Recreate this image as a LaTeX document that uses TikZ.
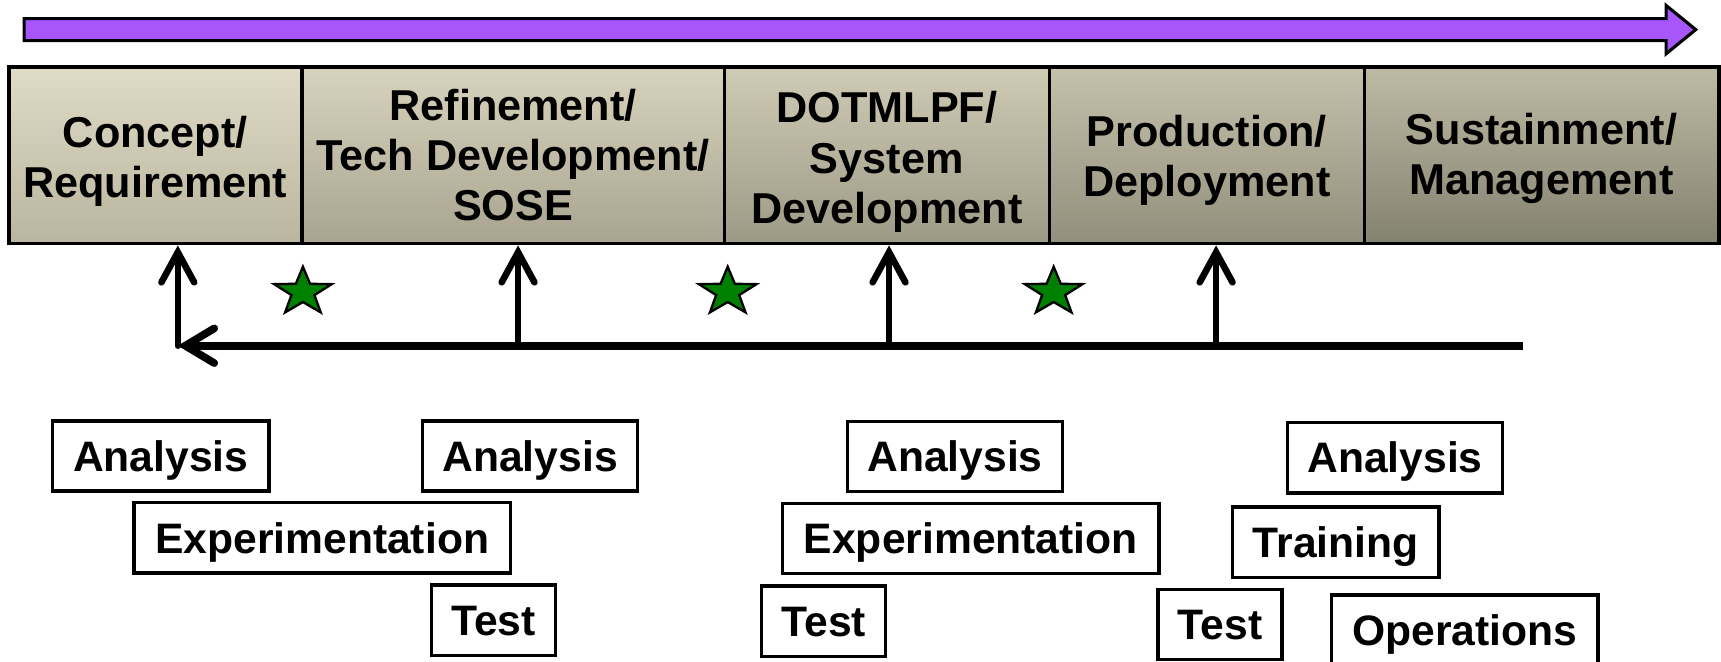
\documentclass[tikz,border=0pt]{standalone}
\usepackage{fontspec}
\setmainfont{Liberation Sans}
\usetikzlibrary{arrows.meta,shapes.geometric}
\definecolor{arrowpurple}{RGB}{166,86,250}
\definecolor{stargreen}{RGB}{0,128,0}
\definecolor{pAt}{RGB}{223,219,198}\definecolor{pAb}{RGB}{186,181,158}
\definecolor{pBt}{RGB}{215,211,189}\definecolor{pBb}{RGB}{168,164,143}
\definecolor{pCt}{RGB}{207,203,181}\definecolor{pCb}{RGB}{156,153,133}
\definecolor{pDt}{RGB}{197,193,171}\definecolor{pDb}{RGB}{146,143,124}
\definecolor{pEt}{RGB}{190,186,165}\definecolor{pEb}{RGB}{132,130,112}
\begin{document}
\begin{tikzpicture}[x=0.1mm,y=-0.1mm,
  phase/.style={draw=black, line width=0.9pt, minimum height=16.1mm, inner sep=0pt},
  phasetext/.style={inner sep=0pt, align=center, font=\fontsize{11.2}{13}\selectfont\bfseries},
  actbox/.style={draw=black, line width=0.9pt, minimum height=6.4mm, inner sep=0pt,
    text height=7.9pt, text depth=0pt,
    font=\fontsize{11.05}{13}\selectfont\bfseries},
  flow/.style={line width=1.7pt, line cap=round,
    -{Straight Barb[length=7.8pt,width=8.5pt,line cap=round,line width=1.7pt]}},
  backflow/.style={line width=2pt,
    -{Straight Barb[length=7.5pt,width=9pt,line cap=round,line width=2pt]}},
  milestone/.style={star, star points=5, star point ratio=2.5, draw=black, fill=stargreen,
    line width=0.6pt, minimum size=4.6mm, inner sep=0pt, xscale=1.2},
  timeline/.style={draw=black, line width=0.8pt, fill=arrowpurple}
]
\useasboundingbox (0,0) rectangle (1568,603);

% top timeline arrow
\draw[timeline] (22,17) -- (1518,17) -- (1518,5) -- (1545,27) -- (1518,49) -- (1518,37) -- (22,37) -- cycle;

% phases
\node[phase, minimum width=26.7mm, top color=pAt, bottom color=pAb,
  label={[phasetext, yshift=-0.55mm]center:{Concept/\\Requirement}}] (concept) at (141.5,141.5) {};
\node[phase, minimum width=38.5mm, top color=pBt, bottom color=pBb,
  label={[phasetext]center:{Refinement/\\Tech Development/\\SOSE}}] (refine) at (467.5,141.5) {};
\node[phase, minimum width=29.6mm, top color=pCt, bottom color=pCb,
  label={[phasetext, yshift=-0.6mm]center:{DOTMLPF/\\System\\Development}}] (dotmlpf) at (808,141.5) {};
\node[phase, minimum width=28.7mm, top color=pDt, bottom color=pDb,
  label={[phasetext, yshift=-0.45mm]center:{Production/\\Deployment}}] (prod) at (1099.5,141.5) {};
\node[phase, minimum width=32.3mm, top color=pEt, bottom color=pEb,
  label={[phasetext, yshift=-0.3mm]center:{Sustainment/\\Management}}] (sustain) at (1404.5,141.5) {};

% feedback line
\coordinate (hr) at (1388,315);
\coordinate (hl) at (162,315);
\coordinate (v2) at (472,315);
\coordinate (v3) at (810,315);
\coordinate (v4) at (1108,315);
\draw[backflow] (hr) -- (hl);
\draw[flow] (hl) -- (hl |- concept.south);
\draw[flow] (v2) -- (v2 |- refine.south);
\draw[flow] (v3) -- (v3 |- dotmlpf.south);
\draw[flow] (v4) -- (v4 |- prod.south);

% milestones
\node[milestone] (s1) at (276,266) {};
\node[milestone] (s2) at (663,266) {};
\node[milestone] (s3) at (960,266) {};

% activity boxes
\node[actbox, minimum width=19.7mm] (a1) at (146.5,415.5) {Analysis};
\node[actbox, minimum width=19.6mm] (a2) at (483,415.5) {Analysis};
\node[actbox, minimum width=34.3mm] (e1) at (293.5,490) {Experimentation};
\node[actbox, minimum width=11.3mm] (t1) at (449.5,565) {Test};
\node[actbox, minimum width=19.6mm] (a3) at (870,416) {Analysis};
\node[actbox, minimum width=34.3mm] (e2) at (884.5,490.5) {Experimentation};
\node[actbox, minimum width=11.3mm] (t2) at (750.5,566) {Test};
\node[actbox, minimum width=19.6mm] (a4) at (1271,417) {Analysis};
\node[actbox, minimum width=18.8mm] (tr) at (1217,494) {Training};
\node[actbox, minimum width=11.3mm] (t3) at (1111.5,569) {Test};
\node[actbox, minimum width=24.3mm] (op) at (1334.5,574) {Operations};
\end{tikzpicture}
\end{document}
